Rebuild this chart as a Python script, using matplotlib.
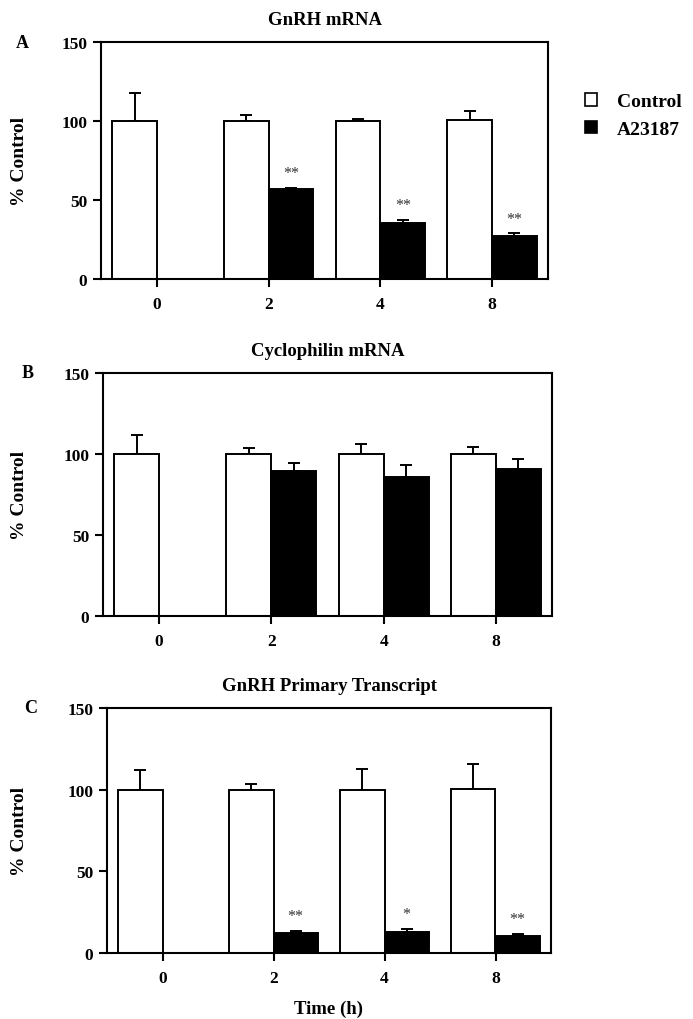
import numpy as np
import matplotlib
matplotlib.use("Agg")
import matplotlib.pyplot as plt
from matplotlib.patches import Patch

plt.rcParams['font.family'] = ['Liberation Serif', 'DejaVu Serif']
plt.rcParams['font.weight'] = 'bold'

# data
time_labels = ['0', '2', '4', '8']

a_ctrl = [100, 100, 100, 100.5]
a_ctrl_err = [17.5, 4, 1.5, 6]
a_trt = [np.nan, 57, 35.5, 27]
a_trt_err = [0, 0.8, 1.8, 1.8]
a_stars = ['', '**', '**', '**']

b_ctrl = [100, 100, 100, 100]
b_ctrl_err = [11.5, 3.5, 6, 4.5]
b_trt = [np.nan, 89.5, 86, 90.5]
b_trt_err = [0, 5, 7, 6.5]
b_stars = ['', '', '', '']

c_ctrl = [100, 100, 100, 100.5]
c_ctrl_err = [12, 3.7, 12.5, 15]
c_trt = [np.nan, 12, 13, 10.3]
c_trt_err = [0, 1.6, 1.7, 1.6]
c_stars = ['', '**', '*', '**']

titles = ['GnRH mRNA', 'Cyclophilin mRNA', 'GnRH Primary Transcript']
letters = ['A', 'B', 'C']

W, H = 693, 1020
fig = plt.figure(figsize=(W / 100, H / 100), dpi=100)


def px_rect(l, r, t, b):
    return [l / W, 1 - b / H, (r - l) / W, (b - t) / H]


# axes boxes in pixels (left, right, top, bottom)
boxes = [(101, 548, 43, 280), (103, 552, 374, 617), (107, 551, 709, 954)]
letter_x = [22, 28, 31]
panels = [
    (a_ctrl, a_ctrl_err, a_trt, a_trt_err, a_stars),
    (b_ctrl, b_ctrl_err, b_trt, b_trt_err, b_stars),
    (c_ctrl, c_ctrl_err, c_trt, c_trt_err, c_stars),
]

x = np.arange(len(time_labels))
w = 0.4

for i, (box, (ctrl, cerr, trt, terr, stars)) in enumerate(zip(boxes, panels)):
    ax = fig.add_axes(px_rect(*box))
    ctrl = np.array(ctrl, float)
    trt = np.array(trt, float)
    m = ~np.isnan(trt)

    ax.bar(x - w / 2, ctrl, w, color='white', edgecolor='black', linewidth=1.4, zorder=2)
    ax.bar(x[m] + w / 2, trt[m], w, color='black', edgecolor='black', linewidth=1.4, zorder=2)

    ax.errorbar(x - w / 2, ctrl, yerr=[np.zeros(len(x)), cerr], fmt='none',
                ecolor='black', elinewidth=1.4, capsize=4.5, capthick=1.4, zorder=1)
    ax.errorbar(x[m] + w / 2, trt[m], yerr=[np.zeros(m.sum()), np.array(terr)[m]],
                fmt='none', ecolor='black', elinewidth=1.4, capsize=4.5, capthick=1.4, zorder=1)

    for xi, yi, ei, s in zip(x, trt, terr, stars):
        if s:
            ax.annotate(s, (xi + w / 2, yi + ei), xytext=(0, 5), textcoords='offset points',
                        ha='center', va='bottom', fontsize=11.5, fontweight='normal', color='#333333')

    ax.set_xlim(-0.5, 3.5)
    ax.set_ylim(0, 150)
    ax.set_yticks([0, 50, 100, 150])
    ax.set_xticks(x)
    ax.set_xticklabels(time_labels)
    for sp in ax.spines.values():
        sp.set_linewidth(1.5)
    ax.tick_params(direction='out', length=6, width=1.5, labelsize=12.5)
    ax.tick_params(axis='x', pad=6)
    ax.tick_params(axis='y', pad=4)
    for lab in ax.get_xticklabels() + ax.get_yticklabels():
        lab.set_fontweight('bold')

    ax.set_title(titles[i], fontsize=13.5, fontweight='bold', pad=13)
    ax.set_ylabel('% Control', fontsize=14, fontweight='bold')
    l, r, t, b = box
    ax.yaxis.set_label_coords((28 - l) / (r - l), 0.5)
    fig.text(letter_x[i] / W, 1 - t / H, letters[i], fontsize=13, fontweight='bold',
             ha='center', va='center')

fig.text(329 / W, 1 - 1009 / H, 'Time (h)', fontsize=13.5, fontweight='bold',
         ha='center', va='center')

handles = [Patch(facecolor='white', edgecolor='black', linewidth=1.2, label='Control'),
           Patch(facecolor='black', edgecolor='black', linewidth=1.2, label='A23187')]
fig.legend(handles=handles, loc='upper left', bbox_to_anchor=(585 / W, 1 - 94 / H),
           frameon=False, fontsize=14, handlelength=0.62, handleheight=0.62,
           handletextpad=1.0, labelspacing=0.55, borderpad=0, borderaxespad=0)

fig.savefig('out.png', dpi=100, facecolor='white')
